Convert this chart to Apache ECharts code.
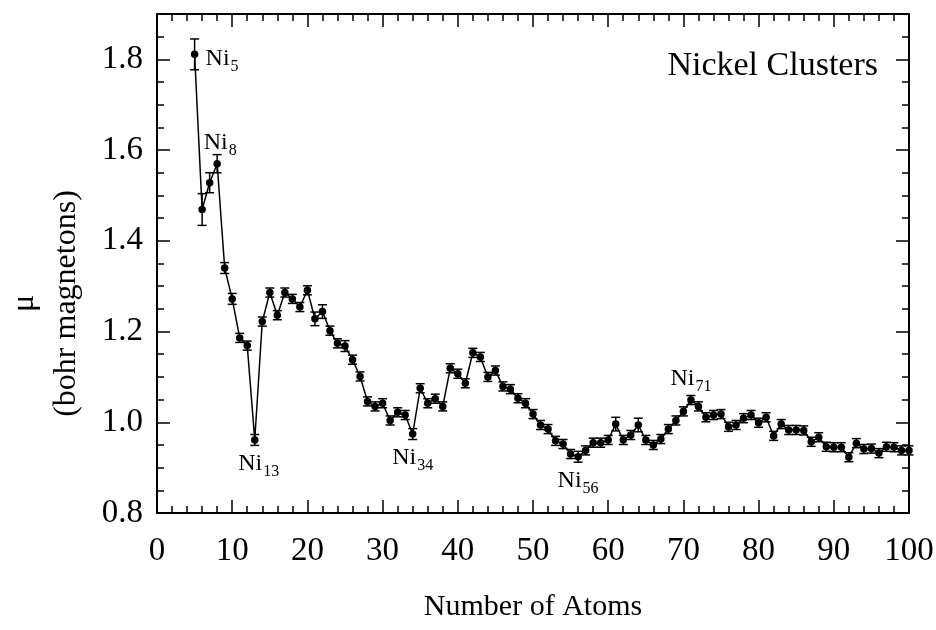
<!DOCTYPE html>
<html>
<head>
<meta charset="utf-8">
<script src="https://cdn.jsdelivr.net/npm/echarts@6/dist/echarts.min.js"></script>
<style>
html,body{margin:0;padding:0;background:#fff;}
#chart{width:936px;height:630px;}
</style>
</head>
<body>
<div id="chart"></div>
<script>
// Cluster sizes (number of atoms)
const atoms = [5,6,7,8,9,10,11,12,13,14,15,16,17,18,19,20,21,22,23,24,25,26,27,28,29,30,
  31,32,33,34,35,36,37,38,39,40,41,42,43,44,45,46,47,48,49,50,51,52,53,54,55,56,57,58,59,60,
  61,62,63,64,65,66,67,68,69,70,71,72,73,74,75,76,77,78,79,80,81,82,83,84,85,86,87,88,89,90,
  91,92,93,94,95,96,97,98,99,100];
// Magnetic moment per atom (bohr magnetons)
const moments = [1.811,1.469,1.528,1.570,1.340,1.272,1.186,1.169,0.961,1.222,1.286,1.236,1.286,1.272,1.254,1.291,1.228,1.244,1.202,1.174,1.168,1.138,1.101,1.046,1.035,1.042,
  1.004,1.022,1.016,0.974,1.075,1.042,1.052,1.035,1.119,1.107,1.086,1.153,1.144,1.100,1.114,1.079,1.073,1.053,1.042,1.018,0.994,0.985,0.959,0.952,0.930,0.924,0.938,0.955,0.955,0.961,
  0.996,0.961,0.972,0.994,0.961,0.950,0.963,0.985,1.004,1.024,1.049,1.035,1.011,1.016,1.018,0.990,0.994,1.009,1.016,0.999,1.011,0.970,0.996,0.983,0.983,0.982,0.957,0.967,0.946,0.945,
  0.945,0.923,0.954,0.941,0.942,0.932,0.946,0.945,0.938,0.938];
// Error bar half-widths
const errors = [0.034,0.035,0.022,0.020,0.012,0.012,0.010,0.010,0.012,0.010,0.010,0.010,0.010,0.010,0.010,0.010,0.015,0.015,0.010,0.010,0.012,0.010,0.010,0.010,0.010,0.010,
  0.010,0.010,0.010,0.012,0.010,0.010,0.010,0.010,0.010,0.010,0.010,0.010,0.010,0.010,0.010,0.010,0.010,0.010,0.010,0.010,0.010,0.010,0.010,0.010,0.010,0.012,0.010,0.010,0.010,0.010,
  0.015,0.010,0.010,0.015,0.010,0.010,0.010,0.010,0.010,0.010,0.010,0.010,0.010,0.010,0.010,0.010,0.010,0.010,0.010,0.010,0.010,0.010,0.010,0.010,0.010,0.010,0.010,0.010,0.010,0.010,
  0.010,0.010,0.010,0.010,0.010,0.010,0.010,0.010,0.010,0.010];
// Annotated clusters
const labelAtoms = [5, 8, 13, 34, 56, 71];
const labelSubs = ['5', '8', '13', '34', '56', '71'];
const labelPos = ['right', 'top', 'bottom', 'bottom', 'bottom', 'top'];
const labelOffsets = [[6, 4], [3, -4], [4, 7], [0, 7], [0, 7], [0, -4]];
// Axis ranges / ticks
const xMin = 0, xMax = 100, xStep = 10;
const yMin = 0.8, yMax = 1.9, yStep = 0.2;

const FONT = '"Liberation Serif", "Times New Roman", serif';
const chart = echarts.init(document.getElementById('chart'), null, {renderer: 'canvas'});

const lineData = atoms.map((a, i) => [a, moments[i]]);
const errData = atoms.map((a, i) => [a, moments[i], errors[i]]);

const markData = labelAtoms.map((a, k) => {
  const i = atoms.indexOf(a);
  return {
    coord: [a, moments[i]],
    label: {
      show: true,
      position: labelPos[k],
      offset: labelOffsets[k],
      formatter: '{m|Ni}{s|' + labelSubs[k] + '}'
    }
  };
});

const axisCommonX = {
  type: 'value', min: xMin, max: xMax, interval: xStep,
  axisLine: {show: true, onZero: false, lineStyle: {color: '#000', width: 2}},
  axisTick: {show: true, inside: true, length: 13, lineStyle: {color: '#000', width: 1.5}},
  minorTick: {show: true, splitNumber: 5, length: 7, lineStyle: {color: '#000', width: 1.5}},
  splitLine: {show: false}
};
const axisCommonY = {
  type: 'value', min: yMin, max: yMax, interval: yStep,
  axisLine: {show: true, onZero: false, lineStyle: {color: '#000', width: 2}},
  axisTick: {show: true, inside: true, length: 13, lineStyle: {color: '#000', width: 1.5}},
  minorTick: {show: true, splitNumber: 4, length: 7, lineStyle: {color: '#000', width: 1.5}},
  splitLine: {show: false}
};

const option = {
  backgroundColor: '#fff',
  animation: false,
  grid: {left: 157, top: 14, right: 27, bottom: 117, containLabel: false, outerBoundsMode: 'none'},
  title: {
    text: 'Nickel Clusters',
    right: 53, top: 44,
    textStyle: {fontFamily: FONT, fontSize: 34, fontWeight: 'normal', color: '#000'}
  },
  xAxis: [
    Object.assign({}, axisCommonX, {
      position: 'bottom',
      name: 'Number of Atoms', nameLocation: 'middle', nameGap: 79,
      nameTextStyle: {fontFamily: FONT, fontSize: 30, color: '#000'},
      axisLabel: {show: true, margin: 22, fontFamily: FONT, fontSize: 33, color: '#000'}
    }),
    Object.assign({}, axisCommonX, {position: 'top', axisLabel: {show: false}})
  ],
  yAxis: [
    Object.assign({}, axisCommonY, {
      position: 'left',
      name: '{mu|μ}\n{b|(bohr magnetons)}', nameLocation: 'middle', nameGap: 70, nameRotate: 90,
      nameTextStyle: {
        fontFamily: FONT, fontSize: 32, color: '#000', padding: [0, 0, 0, -80],
        rich: {
          mu: {fontFamily: FONT, fontSize: 32, lineHeight: 44, color: '#000'},
          b: {fontFamily: FONT, fontSize: 32, lineHeight: 40, color: '#000'}
        }
      },
      axisLabel: {show: true, margin: 14, fontFamily: FONT, fontSize: 33, color: '#000',
        showMaxLabel: false,
        formatter: v => v.toFixed(1)}
    }),
    Object.assign({}, axisCommonY, {position: 'right', axisLabel: {show: false}})
  ],
  series: [
    {
      type: 'line',
      data: lineData,
      xAxisIndex: 0, yAxisIndex: 0,
      symbol: 'circle', symbolSize: 7.5,
      itemStyle: {color: '#000'},
      lineStyle: {color: '#000', width: 1.5},
      z: 3,
      markPoint: {
        symbol: 'circle', symbolSize: 0,
        silent: true,
        label: {
          color: '#000',
          rich: {
            m: {fontFamily: FONT, fontSize: 24, color: '#000', lineHeight: 24, verticalAlign: 'top'},
            s: {fontFamily: FONT, fontSize: 16, color: '#000', lineHeight: 16, verticalAlign: 'top', padding: [12, 0, 0, 1]}
          }
        },
        data: markData
      }
    },
    {
      type: 'custom',
      xAxisIndex: 0, yAxisIndex: 0,
      data: errData,
      z: 2,
      renderItem: function (params, api) {
        const x = api.value(0), y = api.value(1), e = api.value(2);
        const top = api.coord([x, y + e]);
        const bot = api.coord([x, y - e]);
        const cw = 4.5;
        const st = {stroke: '#000', lineWidth: 1.5};
        return {
          type: 'group',
          children: [
            {type: 'line', shape: {x1: top[0], y1: top[1], x2: bot[0], y2: bot[1]}, style: st},
            {type: 'line', shape: {x1: top[0] - cw, y1: top[1], x2: top[0] + cw, y2: top[1]}, style: st},
            {type: 'line', shape: {x1: bot[0] - cw, y1: bot[1], x2: bot[0] + cw, y2: bot[1]}, style: st}
          ]
        };
      }
    }
  ]
};
chart.setOption(option);
</script>
</body>
</html>
